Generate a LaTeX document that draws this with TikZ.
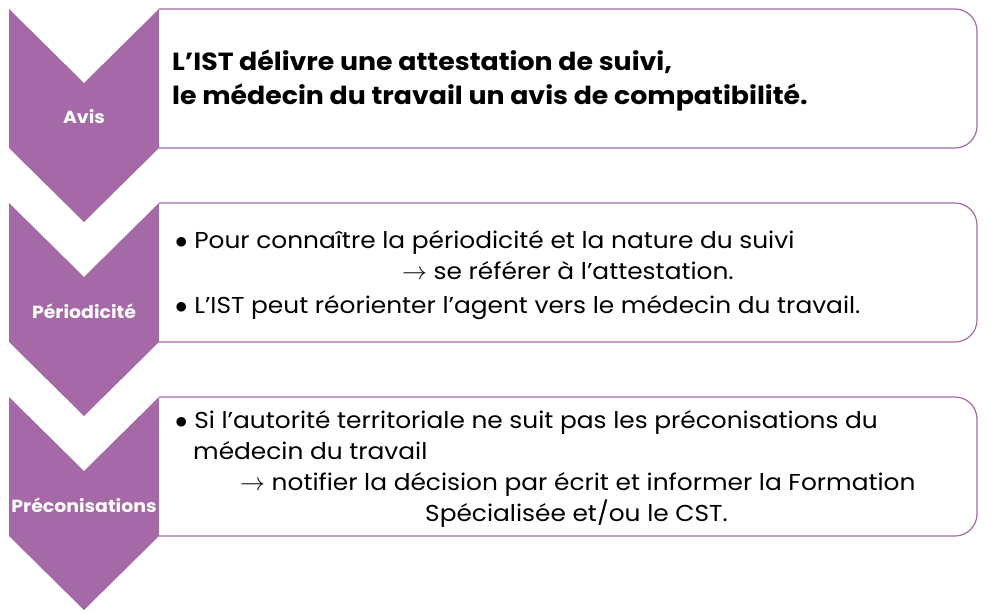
\documentclass[tikz,border=0pt]{standalone}
\usepackage{fontspec}
\setmainfont{Poppins}[FakeStretch=1.08]
\usepackage{tikz}
\definecolor{mauve}{RGB}{165,105,168}
\tikzset{
  etape/.style={fill=mauve},
  cadre/.style={draw=mauve,line width=1.2pt,rounded corners=22pt,fill=white},
  titre/.style={text=white,font=\fontsize{17.5}{20}\selectfont\bfseries},
  ligne/.style={anchor=base west,inner sep=0pt,font=\fontsize{23}{27}\selectfont},
  gras/.style={ligne,font=\fontsize{24.8}{29}\selectfont\bfseries}
}

\begin{document}
\begin{tikzpicture}[x=1pt,y=-1pt]
  \useasboundingbox (0,0) rectangle (990,615);
  % les trois etapes
  \foreach \y/\Nom/\Texte in {9/avis/Avis,203/period/Périodicité,397/precon/Préconisations}
  {
    \draw[cadre] (159,\y) -- (977,\y) -- (977,\y+139) -- (159,\y+139);
    \fill[etape] (9,\y) -- (84,\y+74) -- (159,\y) -- (159,\y+139) -- (84,\y+213) -- (9,\y+139) -- cycle;
    \node[titre] (\Nom) at (84,\y+108) {\Texte};
  }
  % Avis
  \node[gras] (a1) at (172,71) {L’IST délivre une attestation de suivi,};
  \node[gras] (a2) at (172,105) {le médecin du travail un avis de compatibilité.};
  % Periodicite
  \node[ligne] (p1) at (175,248) {$\bullet$ Pour connaître la périodicité et la nature du suivi};
  \node[ligne] (p2) at (402,279) {$\rightarrow$ se référer à l’attestation.};
  \node[ligne] (p3) at (175,313) {$\bullet$ L’IST peut réorienter l’agent vers le médecin du travail.};
  % Preconisations
  \node[ligne] (c1) at (175,428) {$\bullet$ Si l’autorité territoriale ne suit pas les préconisations du};
  \node[ligne] (c2) at (193,459) {médecin du travail};
  \node[ligne] (c3) at (240,490) {$\rightarrow$ notifier la décision par écrit et informer la Formation};
  \node[ligne] (c4) at (425,521) {Spécialisée et/ou le CST.};
\end{tikzpicture}
\end{document}
